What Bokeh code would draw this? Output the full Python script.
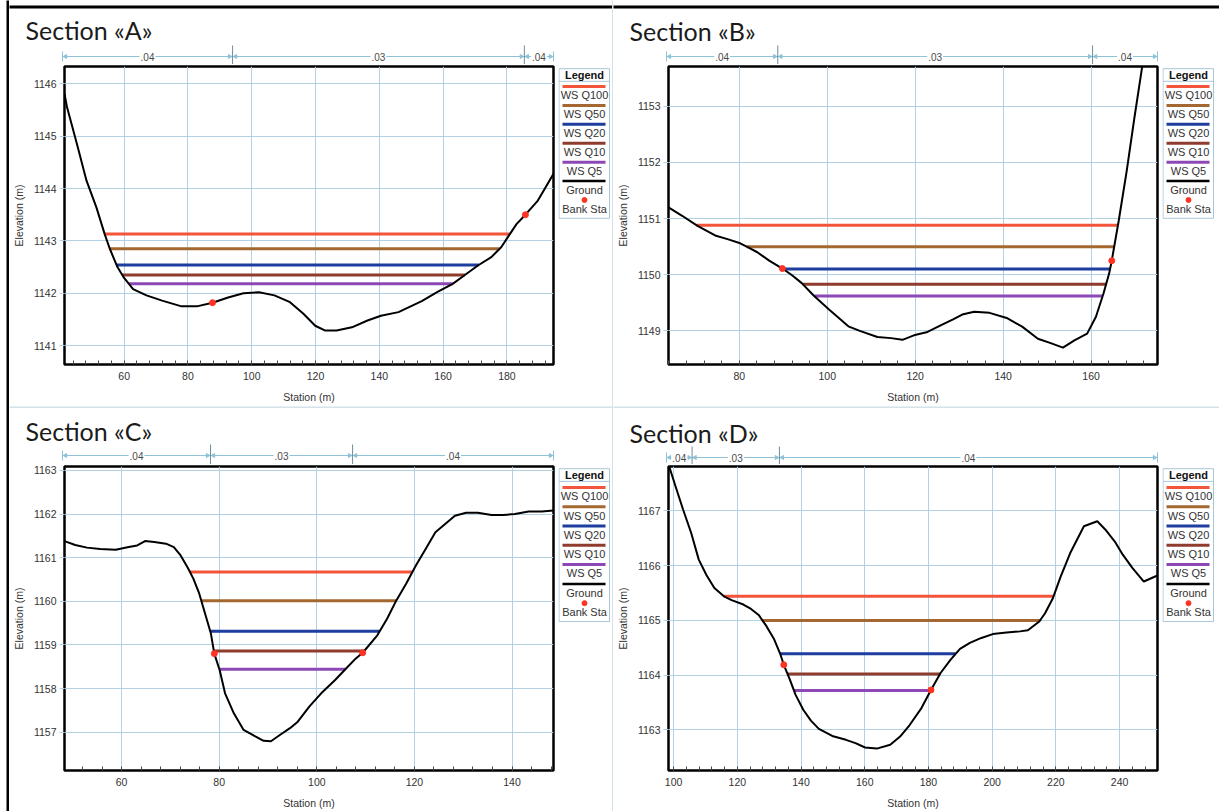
import numpy as np
from bokeh.plotting import figure
from bokeh.layouts import row, column
from bokeh.models import Range1d, SingleIntervalTicker, ColumnDataSource
from bokeh.core.properties import value
from bokeh.embed import file_html
from bokeh.resources import INLINE

# ---------------- data ----------------
titles = ["Section «A»", "Section «B»", "Section «C»", "Section «D»"]
ws_names = ["WS Q100", "WS Q50", "WS Q20", "WS Q10", "WS Q5"]
legend_names = ws_names + ["Ground", "Bank Sta"]
ws_colors = ["#f2553a", "#a3672f", "#1d3d9f", "#8f3b2d", "#8c49b6"]
bank_color = "#ff3324"

a_sta = [41.3, 42.1, 45.2, 48.2, 51.3, 53.9, 55.5, 57.9, 59.8, 62.8,
         67.0, 71.9, 78.0, 82.8, 87.7, 92.6, 97.4, 102.3, 107.1, 112.0,
         116.2, 119.9, 122.9, 126.6, 131.4, 136.3, 140.5, 146.0, 153.3, 158.1,
         163.0, 166.6, 170.9, 175.1, 178.2, 180.6, 183.0, 185.8, 189.7, 194.6]
a_elev = [1145.81, 1145.55, 1144.85, 1144.15, 1143.64, 1143.13, 1142.85, 1142.50, 1142.31, 1142.08,
          1141.96, 1141.86, 1141.75, 1141.75, 1141.82, 1141.92, 1142.00, 1142.02, 1141.96, 1141.83,
          1141.61, 1141.38, 1141.29, 1141.29, 1141.35, 1141.48, 1141.57, 1141.64, 1141.85, 1142.02,
          1142.18, 1142.34, 1142.53, 1142.69, 1142.88, 1143.10, 1143.32, 1143.50, 1143.77, 1144.28]
a_ws = [1143.13, 1142.85, 1142.54, 1142.35, 1142.18]
a_bank_sta = [87.7, 185.8]
a_bank_elev = [1141.82, 1143.50]
a_n_breaks = [94.4, 185.5]
a_n_values = [".04", ".03", ".04"]
a_yrange = [1140.64, 1146.33]

b_sta = [63.9, 67.0, 70.5, 74.5, 77.5, 80.2, 81.9, 84.1, 86.8, 89.8,
         92.0, 94.2, 96.9, 100.4, 104.8, 107.4, 111.4, 114.5, 117.1, 119.7,
         122.8, 125.9, 128.5, 130.7, 133.4, 136.9, 140.8, 144.4, 147.9, 150.5,
         153.6, 156.2, 159.1, 161.1, 162.8, 164.1, 164.7, 166.3, 168.1, 169.8,
         171.6, 175.1]
b_elev = [1151.20, 1151.05, 1150.87, 1150.70, 1150.63, 1150.56, 1150.49, 1150.40, 1150.25, 1150.11,
          1149.99, 1149.85, 1149.63, 1149.38, 1149.08, 1149.00, 1148.89, 1148.87, 1148.84, 1148.92,
          1148.98, 1149.10, 1149.20, 1149.29, 1149.34, 1149.32, 1149.23, 1149.07, 1148.86, 1148.79,
          1148.70, 1148.83, 1148.95, 1149.25, 1149.66, 1150.02, 1150.25, 1150.97, 1151.85, 1152.77,
          1153.70, 1155.50]
b_ws = [1150.88, 1150.50, 1150.10, 1149.83, 1149.62]
b_bank_sta = [89.8, 164.7]
b_bank_elev = [1150.11, 1150.25]
b_n_breaks = [89.1, 160.4]
b_n_values = [".04", ".03", ".04"]
b_yrange = [1148.40, 1153.71]

c_sta = [48.3, 50.5, 52.9, 55.6, 58.8, 61.2, 63.2, 64.8, 66.7, 69.1,
         70.7, 72.1, 73.5, 74.7, 75.9, 77.1, 78.3, 79.0, 80.1, 81.2,
         83.0, 85.0, 87.4, 89.1, 90.6, 92.5, 94.5, 96.1, 98.5, 100.9,
         103.7, 106.0, 108.0, 109.4, 112.4, 114.4, 116.3, 118.3, 120.3, 122.3,
         124.3, 126.3, 128.3, 130.6, 133.0, 135.8, 138.2, 140.6, 143.4, 146.1,
         148.5]
c_elev = [1161.38, 1161.29, 1161.23, 1161.20, 1161.18, 1161.24, 1161.28, 1161.38, 1161.36, 1161.32,
          1161.24, 1161.05, 1160.78, 1160.52, 1160.18, 1159.72, 1159.26, 1158.80, 1158.42, 1157.89,
          1157.43, 1157.05, 1156.90, 1156.80, 1156.79, 1156.94, 1157.09, 1157.24, 1157.59, 1157.89,
          1158.19, 1158.46, 1158.69, 1158.82, 1159.22, 1159.60, 1160.02, 1160.40, 1160.82, 1161.20,
          1161.58, 1161.77, 1161.96, 1162.03, 1162.03, 1161.98, 1161.98, 1162.00, 1162.06, 1162.06,
          1162.08]
c_ws = [1160.67, 1160.01, 1159.31, 1158.86, 1158.44]
c_bank_sta = [79.0, 109.4]
c_bank_elev = [1158.80, 1158.82]
c_n_breaks = [78.5, 107.5]
c_n_values = [".04", ".03", ".04"]
c_yrange = [1156.12, 1163.09]

d_sta = [98.4, 100.6, 103.0, 105.5, 107.9, 110.3, 112.8, 115.8, 118.2, 121.9,
         124.3, 126.7, 129.2, 131.6, 133.4, 134.6, 136.5, 138.3, 140.7, 143.1,
         145.6, 149.8, 154.1, 157.1, 160.1, 163.8, 168.0, 171.1, 174.1, 177.8,
         180.8, 183.8, 186.9, 189.9, 193.0, 196.6, 200.2, 204.5, 208.7, 211.2,
         214.8, 216.6, 219.1, 221.5, 224.5, 228.8, 233.0, 235.5, 238.5, 241.0,
         244.0, 247.6, 251.9]
d_elev = [1167.85, 1167.45, 1167.02, 1166.60, 1166.11, 1165.83, 1165.59, 1165.44, 1165.37, 1165.29,
          1165.21, 1165.10, 1164.89, 1164.65, 1164.40, 1164.19, 1163.92, 1163.64, 1163.37, 1163.17,
          1163.02, 1162.89, 1162.82, 1162.76, 1162.68, 1162.66, 1162.73, 1162.88, 1163.09, 1163.40,
          1163.73, 1164.04, 1164.28, 1164.48, 1164.59, 1164.68, 1164.75, 1164.78, 1164.80, 1164.82,
          1164.98, 1165.13, 1165.41, 1165.80, 1166.23, 1166.72, 1166.81, 1166.66, 1166.44, 1166.20,
          1165.96, 1165.71, 1165.82]
d_ws = [1165.44, 1165.00, 1164.39, 1164.02, 1163.72]
d_bank_sta = [134.6, 180.8]
d_bank_elev = [1164.19, 1163.73]
d_n_breaks = [106.4, 133.7]
d_n_values = [".04", ".03", ".04"]
d_yrange = [1162.26, 1167.81]

# ---------------- style / layout ----------------
GRID = "#b3d1e2"
STRIP = "#8dc2d7"
BREAK = "#6d8c9c"
DIV = "#aac6d6"
AXFONT = "Liberation Sans"
FL, FW, FR = 53, 491, 5


def ws_extent(sta, elev, ws):
    sta = np.asarray(sta, float)
    elev = np.asarray(elev, float)
    i0 = int(np.argmin(elev))
    i = i0
    while i > 0 and elev[i - 1] < ws:
        i -= 1
    if i > 0:
        xl = sta[i - 1] + (ws - elev[i - 1]) * (sta[i] - sta[i - 1]) / (elev[i] - elev[i - 1])
    else:
        xl = sta[0]
    j = i0
    while j < len(sta) - 1 and elev[j + 1] < ws:
        j += 1
    if j < len(sta) - 1:
        xr = sta[j] + (ws - elev[j]) * (sta[j + 1] - sta[j]) / (elev[j + 1] - elev[j])
    else:
        xr = sta[-1]
    return xl, xr


def blank(w, h, color):
    f = figure(width=w, height=h, min_border=0, title=None, toolbar_location=None,
               output_backend="svg", x_axis_type=None, y_axis_type=None,
               x_range=Range1d(0, 1), y_range=Range1d(0, 1))
    f.outline_line_color = None
    f.background_fill_color = color
    f.border_fill_color = color
    return f


def make_panel(title, sta, elev, ws, bank_sta, bank_elev, n_breaks, n_values, yr,
               panel_w, panel_h, frame_top, frame_h, title_base, strip_y, leg_off, leg_step,
               top_pad, band):
    x0, x1 = sta[0], sta[-1]
    k = (x1 - x0) / FW
    head_h = top_pad + frame_top - 2
    main_h = panel_h - (frame_top - 2)
    hx0 = x0 - FL * k
    hx1 = x1 + (panel_w - FL - FW) * k

    # ---- header: top band, title + Manning's n strip
    hd = figure(width=panel_w, height=head_h, x_range=Range1d(hx0, hx1),
                y_range=Range1d(head_h, 0), min_border=0, title=None,
                toolbar_location=None, output_backend="svg",
                x_axis_type=None, y_axis_type=None)
    hd.outline_line_color = None
    hd.background_fill_color = "white"
    hd.border_fill_color = "white"
    bcol, by0, by1 = band
    hd.quad(left=[hx0 - k], right=[hx1 + k], top=[by0], bottom=[by1], fill_color=bcol,
            line_color=None)
    hd.text(x=[x0 - (FL - 16) * k], y=[top_pad + title_base], text=[title],
            text_font=value("Lato"), text_font_size="25px",
            text_baseline="alphabetic", text_align="left", text_color="#1b1b1b")
    sy = top_pad + strip_y
    bounds = [x0] + list(n_breaks) + [x1]
    hd.segment(x0=[x0], y0=[sy], x1=[x1], y1=[sy], line_color=STRIP, line_width=1)
    hd.segment(x0=[x0, x1], y0=[sy - 5, sy - 5], x1=[x0, x1], y1=[sy + 5, sy + 5],
               line_color=STRIP, line_width=1)
    nb = len(n_breaks)
    hd.segment(x0=n_breaks, y0=[sy - 11] * nb, x1=n_breaks, y1=[head_h] * nb,
               line_color=BREAK, line_width=1)
    hd.segment(x0=[b - 3 * k for b in n_breaks], y0=[sy] * nb,
               x1=[b + 3 * k for b in n_breaks], y1=[sy] * nb, line_color=BREAK, line_width=1)
    lefts, rights = bounds[:-1], bounds[1:]
    hd.scatter(x=[b + 3 * k for b in lefts], y=[sy] * len(lefts), marker="triangle",
               angle=np.pi / 2, size=4, color=STRIP)
    hd.scatter(x=[b - 3 * k for b in rights], y=[sy] * len(rights), marker="triangle",
               angle=-np.pi / 2, size=4, color=STRIP)
    mids = [(a + b) / 2 for a, b in zip(lefts, rights)]
    hd.text(x=mids, y=[sy] * len(mids), text=n_values, text_align="center",
            text_baseline="middle", text_font=value(AXFONT), text_font_size="10px",
            text_color="#4a4a4a", background_fill_color="white", padding=1)

    # ---- main cross-section plot
    mp = figure(width=FL + FW + FR, height=main_h, x_range=Range1d(x0, x1),
                y_range=Range1d(yr[0], yr[1]), min_border_left=FL, min_border_right=FR,
                min_border_top=2, min_border_bottom=main_h - 2 - frame_h, title=None,
                toolbar_location=None, output_backend="svg")
    xt = SingleIntervalTicker(interval=20, num_minor_ticks=5)
    yt = SingleIntervalTicker(interval=1, num_minor_ticks=0)
    mp.xaxis.ticker = xt
    mp.xgrid.ticker = xt
    mp.yaxis.ticker = yt
    mp.ygrid.ticker = yt
    for ax in (mp.xaxis[0], mp.yaxis[0]):
        ax.axis_line_color = None
        ax.major_label_text_font = AXFONT
        ax.major_label_text_font_size = "10.5px"
        ax.major_label_text_color = "#333333"
        ax.axis_label_text_font = AXFONT
        ax.axis_label_text_font_size = "10.5px"
        ax.axis_label_text_font_style = "normal"
        ax.axis_label_text_color = "#333333"
    xa = mp.xaxis[0]
    xa.axis_label = "Station (m)"
    xa.major_tick_in = 0
    xa.major_tick_out = 0
    xa.minor_tick_in = 4
    xa.minor_tick_out = 0
    xa.minor_tick_line_color = "#444444"
    xa.major_label_standoff = 7
    xa.axis_label_standoff = 8
    ya = mp.yaxis[0]
    ya.axis_label = "Elevation (m)"
    ya.major_tick_in = 0
    ya.major_tick_out = 5
    ya.major_tick_line_color = GRID
    ya.minor_tick_in = 0
    ya.minor_tick_out = 0
    ya.major_label_standoff = 3
    ya.axis_label_standoff = 6
    mp.grid.grid_line_color = GRID
    mp.grid.grid_line_width = 1
    mp.outline_line_color = "black"
    mp.outline_line_width = 2.5
    mp.background_fill_color = "white"
    mp.border_fill_color = "white"

    ext = [ws_extent(sta, elev, w) for w in ws]
    src = ColumnDataSource(dict(x0=[e[0] for e in ext], x1=[e[1] for e in ext],
                                y=list(ws), color=ws_colors))
    mp.segment(x0="x0", y0="y", x1="x1", y1="y", line_color="color", line_width=3, source=src)
    mp.line(sta, elev, line_color="black", line_width=2)
    mp.scatter(bank_sta, bank_elev, size=6, color=bank_color)

    # ---- legend box
    lw = panel_w - (FL + FW + FR)
    lg = figure(width=lw, height=main_h, x_range=Range1d(0, lw),
                y_range=Range1d(main_h - 2, -2), min_border=0, title=None,
                toolbar_location=None, output_backend="svg",
                x_axis_type=None, y_axis_type=None)
    lg.outline_line_color = None
    lg.background_fill_color = "white"
    lg.border_fill_color = "white"
    bw = 51
    n = len(legend_names)
    box_h = leg_off + 10 + (n - 1) * leg_step + 11
    lg.quad(left=[0.5], right=[bw], top=[0.5], bottom=[box_h], fill_color="white",
            line_color=DIV, line_width=1)
    lg.segment(x0=[0.5], y0=[15], x1=[bw], y1=[15], line_color=DIV, line_width=1)
    lg.text(x=[bw / 2 + 0.5], y=[7.5], text=["Legend"], text_align="center",
            text_baseline="middle", text_font=value(AXFONT), text_font_style="bold",
            text_font_size="11px", text_color="#111111")
    line_cols = ws_colors + ["black"]
    ly = [leg_off + i * leg_step for i in range(len(line_cols))]
    lg.segment(x0=[4] * len(ly), y0=ly, x1=[47] * len(ly), y1=ly, line_color=line_cols,
               line_width=[3] * len(ws_colors) + [2.5])
    lg.scatter(x=[bw / 2 + 0.5], y=[leg_off + (n - 1) * leg_step], size=5, color=bank_color)
    ty = [leg_off + 10 + i * leg_step for i in range(n)]
    lg.text(x=[bw / 2 + 0.5] * n, y=ty, text=legend_names, text_align="center",
            text_baseline="middle", text_font=value(AXFONT), text_font_size="11px",
            text_color="#333333")

    return column(hd, row(mp, lg))


# panel geometry (pixels inside each panel)
top_band = ("black", 5, 8)
mid_band = (DIV, 0, 1)
pA = make_panel(titles[0], a_sta, a_elev, a_ws, a_bank_sta, a_bank_elev, a_n_breaks,
                a_n_values, a_yrange, 603, 398, 58, 298, 21, 48, 21, 21.7, 8, top_band)
pB = make_panel(titles[1], b_sta, b_elev, b_ws, b_bank_sta, b_bank_elev, b_n_breaks,
                b_n_values, b_yrange, 606, 398, 58, 298, 22, 48, 21, 21.7, 8, top_band)
pC = make_panel(titles[2], c_sta, c_elev, c_ws, c_bank_sta, c_bank_elev, c_n_breaks,
                c_n_values, c_yrange, 603, 404, 59, 305, 23, 48, 22, 22, 1, mid_band)
pD = make_panel(titles[3], d_sta, d_elev, d_ws, d_bank_sta, d_bank_elev, d_n_breaks,
                d_n_values, d_yrange, 606, 404, 59, 305, 25, 50, 22, 22, 1, mid_band)

left_col = column(pA, pC)
right_col = column(pB, pD)
root = row(blank(6, 811, "white"), blank(3, 811, "black"), left_col,
           blank(1, 811, DIV), right_col)

open("out.html", "w").write(file_html(root, INLINE))
